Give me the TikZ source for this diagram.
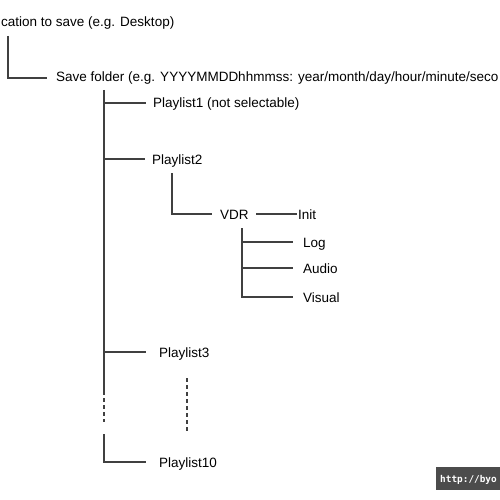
\documentclass[tikz,border=0pt]{standalone}
\usepackage{fontspec}
\setmainfont{Liberation Sans}
\newfontfamily\wmfont{DejaVu Sans Mono}
\begin{document}
\begin{tikzpicture}[x=1pt,y=-1pt,
  lbl/.style={anchor=base west,inner sep=0pt,font=\fontsize{13.5}{16}\selectfont,text=black},
  ln/.style={draw=black!75,line width=1.1pt},
  dl/.style={draw=black!75,line width=1.1pt,dash pattern=on 4pt off 3pt}]
\useasboundingbox (0,0) rectangle (500,500);
\clip (0,0) rectangle (500,500);
\fill[white] (0,0) rectangle (500,500);
% texts
\node[lbl] (loc) at (1,27) {cation to save (e.g. Desktop)};
\node[lbl] (save) at (56,82) {Save folder (e.g. YYYYMMDDhhmmss: year/month/day/hour/minute/seco};
\node[lbl] (p1) at (153,108) {Playlist1 (not selectable)};
\node[lbl] (p2) at (152,164) {Playlist2};
\node[lbl] (vdr) at (220,219) {VDR};
\node[lbl] (init) at (298,219) {Init};
\node[lbl] (log) at (303,247) {Log};
\node[lbl] (audio) at (303,273) {Audio};
\node[lbl] (visual) at (303,302) {Visual};
\node[lbl] (p3) at (159,357) {Playlist3};
\node[lbl] (p10) at (159,467) {Playlist10};
% junction coordinates
\coordinate (a0) at (8,36);
\coordinate (a1) at (8,78);
\coordinate (a2) at (47,78);
\coordinate (b0) at (104,90);
\coordinate (b1) at (104,103);
\coordinate (b1e) at (146,103);
\coordinate (b2) at (104,159);
\coordinate (b2e) at (145,159);
\coordinate (b3) at (104,352);
\coordinate (b3e) at (146,352);
\coordinate (bs) at (104,391);
\coordinate (bd) at (104,422);
\coordinate (b4) at (104,434);
\coordinate (b5) at (104,462);
\coordinate (b5e) at (146,462);
\coordinate (c0) at (172,173);
\coordinate (c1) at (172,214);
\coordinate (c1e) at (212,214);
\coordinate (v1) at (256,214);
\coordinate (v2) at (297,214);
\coordinate (d0) at (242,228);
\coordinate (d1) at (242,242);
\coordinate (d1e) at (293,242);
\coordinate (d2) at (242,268);
\coordinate (d2e) at (293,268);
\coordinate (d3) at (242,297);
\coordinate (d3e) at (293,297);
\coordinate (e0) at (187,378);
\coordinate (e1) at (187,432);
% connectors
\draw[ln] (a0) -- (a1) -- (a2);
\draw[ln] (b0) -- (bs);
\draw[dl] (bs) -- (bd);
\draw[ln] (b4) -- (b5) -- (b5e);
\draw[ln] (b1) -- (b1e);
\draw[ln] (b2) -- (b2e);
\draw[ln] (b3) -- (b3e);
\draw[ln] (c0) -- (c1) -- (c1e);
\draw[ln] (v1) -- (v2);
\draw[ln] (d0) -- (d3) -- (d3e);
\draw[ln] (d1) -- (d1e);
\draw[ln] (d2) -- (d2e);
\draw[dl] (e0) -- (e1);
% watermark
\fill[black!70] (436,467) rectangle (505,490);
\node[anchor=base west,inner sep=0pt,text=white,font=\wmfont\bfseries\fontsize{9.4}{12}\selectfont] (wm) at (440,482) {http://byo};
\end{tikzpicture}
\end{document}
